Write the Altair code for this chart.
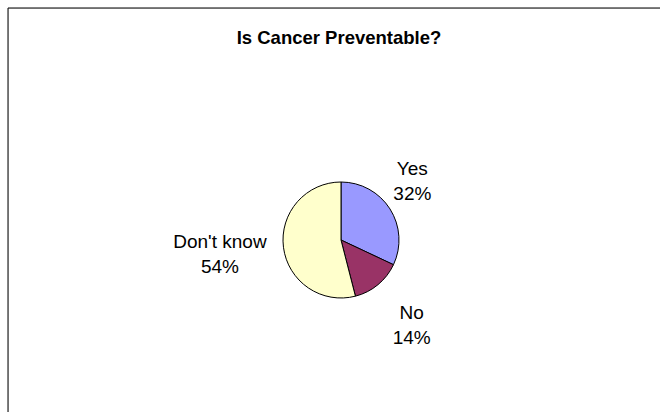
import altair as alt
import pandas as pd

# Survey answers, in the order the slices run clockwise from 12 o'clock
categories = ["Yes", "No", "Don't know"]
percents = [32, 14, 54]
slice_colors = ["#9999FF", "#993366", "#FFFFCC"]
chart_title = "Is Cancer Preventable?"

df = pd.DataFrame({"category": categories, "value": percents})

FONT = "Liberation Sans"
W, H = 652, 404          # plot area inside the 8px left/top padding
CX, CY = 333, 232        # pie centre within the plot area
LINE_H = 25

base = (
    alt.Chart(df)
    .transform_window(idx="row_number()")
    .transform_joinaggregate(total="sum(value)")
    .transform_window(cum="sum(value)", sort=[alt.SortField("idx")], frame=[None, 0])
    .transform_calculate(
        mid="(datum.cum - datum.value / 2) / datum.total * 2 * PI",
        label="datum.category + '\\n' + format(datum.value / datum.total, '.0%')",
    )
)

# Outer frame around the chart area (right and bottom edges run off the page)
frame = (
    alt.Chart(pd.DataFrame({"f": [0]}))
    .mark_rect(filled=False, stroke="black", strokeWidth=1)
    .encode(
        x=alt.value(0),
        y=alt.value(0),
        x2=alt.value(W + 40),
        y2=alt.value(H + 40),
    )
)

title = (
    alt.Chart(pd.DataFrame({"t": [chart_title]}))
    .mark_text(
        font=FONT,
        fontSize=18.5,
        fontWeight="bold",
        color="black",
        align="center",
        baseline="alphabetic",
    )
    .encode(x=alt.value(CX - 2), y=alt.value(36), text="t:N")
)

pie = base.mark_arc(outerRadius=58, stroke="black", strokeWidth=1).encode(
    x=alt.value(CX),
    y=alt.value(CY),
    theta=alt.Theta("value:Q", stack=True),
    order=alt.Order("idx:Q"),
    color=alt.Color(
        "category:N",
        scale=alt.Scale(domain=categories, range=slice_colors),
        legend=None,
    ),
)


def label_layer(name, radius, dx=0, dy=0):
    return (
        base.transform_filter(alt.datum.category == name)
        .mark_text(
            radius=radius,
            dx=dx,
            dy=dy - LINE_H / 2,
            font=FONT,
            fontSize=19,
            lineHeight=LINE_H,
            lineBreak="\n",
            color="black",
            align="center",
            baseline="middle",
        )
        .encode(
            x=alt.value(CX),
            y=alt.value(CY),
            theta=alt.Theta("mid:Q", scale=None),
            text="label:N",
        )
    )


labels = (
    label_layer("Yes", 94, dx=-8, dy=-8)
    + label_layer("No", 111)
    + label_layer("Don't know", 119, dx=-3)
)

chart = (
    alt.layer(frame, title, pie, labels)
    .properties(
        width=W,
        height=H,
        padding={"left": 8, "top": 8, "right": 0, "bottom": 0},
        autosize=alt.AutoSizeParams(type="none"),
    )
    .configure_view(stroke=None)
    .configure(background="white")
)

chart.save("out.html", embed_options={"renderer": "svg", "actions": False})
